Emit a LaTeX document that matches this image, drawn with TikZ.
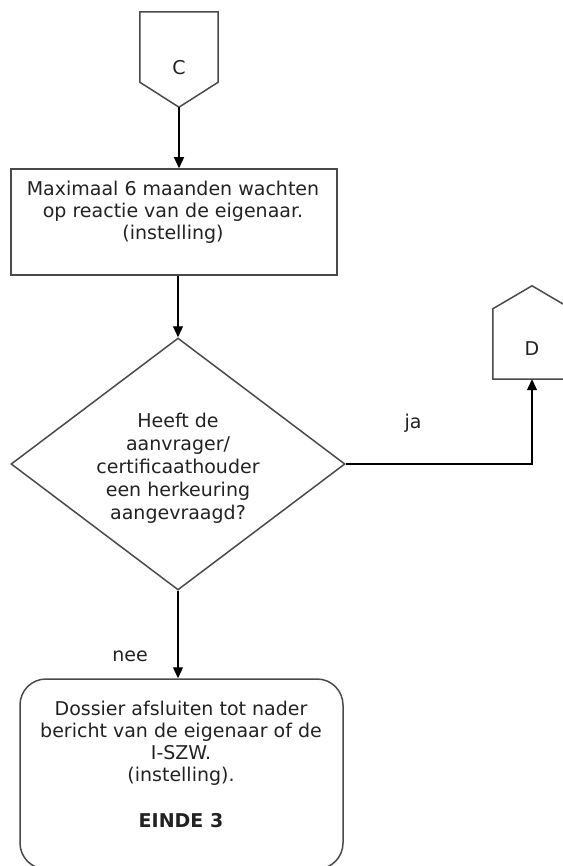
\documentclass[tikz,border=0pt]{standalone}
\usepackage{fontspec}
\setmainfont{DejaVu Sans}
\usepackage{xcolor}
\definecolor{FlowGray}{HTML}{4A4A4A}
\definecolor{FlowText}{HTML}{222222}
\usetikzlibrary{calc,positioning,arrows.meta,shapes.geometric}

\begin{document}
\begin{tikzpicture}[
        x=1pt, y=-1pt,
        every node/.style={font=\fontsize{19}{22}\selectfont, text=FlowText},
        connector/.style={rectangle, draw=none, minimum width=78pt, minimum height=70pt, inner sep=0pt},
        process/.style={rectangle, draw=FlowGray, line width=1.5pt, minimum width=326pt, minimum height=106pt},
        decision/.style={diamond, draw=FlowGray, line width=1.5pt, minimum width=334pt, minimum height=252pt, inner sep=0pt, align=center, font=\fontsize{19}{23}\selectfont},
        terminal/.style={rectangle, draw=FlowGray, line width=1.5pt, rounded corners=26pt, minimum width=323pt, minimum height=190pt},
        flowtxt/.style={align=center, inner sep=0pt},
        link/.style={-{Triangle[length=11pt,width=10pt]}, black, line width=1.2pt}
    ]
        \useasboundingbox (0,0) rectangle (562,866);

        % Off-page connectors
        \node[connector] (c) at (179,47) {};
        \draw[FlowGray, line width=1.5pt] (c.north west) -- (c.north east) -- (c.south east)
            -- ($(c.south)+(0,25)$) -- (c.south west) -- cycle;
        \coordinate (ctip) at ($(c.south)+(0,25)$);
        \node (ctext) at (179,68) {C};

        \node[connector] (d) at (532,344) {};
        \draw[FlowGray, line width=1.5pt] (d.south west) -- (d.south east) -- (d.north east)
            -- ($(d.north)+(0,-23)$) -- (d.north west) -- cycle;
        \node (dtext) at (532,349) {D};

        % Steps
        \node[process] (wait) at (174,222) {};
        \node[flowtxt] (waittext) at (173,212) {Maximaal 6 maanden wachten\\op reactie van de eigenaar.\\(instelling)};

        \node[decision] (ask) at (178,464) {};
        \node[flowtxt, font=\fontsize{19}{23}\selectfont] (asktext) at (178,468) {Heeft de\\aanvrager/\\certificaathouder\\een herkeuring\\aangevraagd?};

        \node[terminal] (done) at (181.5,774) {};
        \node[flowtxt] (donetext) at (181,764) {Dossier afsluiten tot nader\\bericht van de eigenaar of de\\I-SZW.\\(instelling).\\[24pt]\textbf{EINDE 3}};

        % Flows
        \draw[link] (ctip) -- (ctip |- wait.north);
        \draw[link] (ask.north |- wait.south) -- (ask.north);
        \draw[link] (ask.east) -| (d.south);
        \draw[link] (ask.south) -- (ask.south |- done.north);

        % Answers
        \node (ja) at (413,423) {ja};
        \node (nee) at (130,656) {nee};

    \end{tikzpicture}
\end{document}
